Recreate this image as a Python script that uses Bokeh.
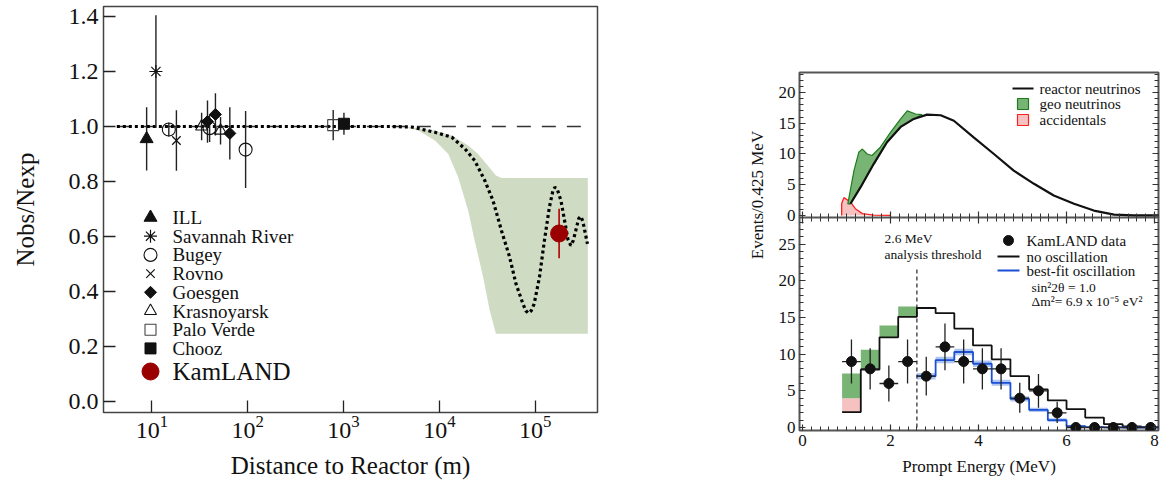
import math
from bokeh.plotting import figure
from bokeh.models import (Range1d, LinearScale, LinearAxis, FixedTicker,
                          SingleIntervalTicker, NumeralTickFormatter)
from bokeh.layouts import row, column
from bokeh.embed import file_html
from bokeh.resources import INLINE
from bokeh.core.properties import value

FONT = "Liberation Serif"
INK = "#111111"

# ---------------- LEFT PANEL DATA (distance in m, Nobs/Nexp, error) ----------------
ill_dist = [8.8];              ill_ratio = [0.955];               ill_err = [0.115]
sr_dist = [11.0];              sr_ratio = [1.20];                 sr_err = [0.205]
bugey_dist = [15.0, 40.0, 95.0]; bugey_ratio = [0.989, 0.994, 0.916]; bugey_err = [0.025, 0.05, 0.14]
rovno_dist = [18.0];           rovno_ratio = [0.949];             rovno_err = [0.11]
goesgen_dist = [38.0, 46.0, 65.0]; goesgen_ratio = [1.018, 1.044, 0.975]; goesgen_err = [0.077, 0.077, 0.095]
kras_dist = [33.0, 52.0];      kras_ratio = [1.0, 0.985];         kras_err = [0.05, 0.05]
pv_dist = [780.0];             pv_ratio = [1.005];                pv_err = [0.055]
chooz_dist = [1010.0];         chooz_ratio = [1.01];              chooz_err = [0.04]
kam_dist = [1.78e5];           kam_ratio = [0.611];               kam_err = [0.09]

osc_dist = [4.3, 1.0e3, 3.2e3, 5.2e3, 9.0e3, 1.35e4, 1.85e4, 2.34e4, 2.98e4, 3.63e4,
            4.45e4, 5.42e4, 6.31e4, 7.47e4, 8.0e4, 8.51e4, 9.1e4, 9.77e4, 1.11e5, 1.25e5,
            1.41e5, 1.53e5, 1.61e5, 1.70e5, 1.86e5, 2.09e5, 2.2e5, 2.36e5, 2.5e5, 2.66e5,
            2.85e5, 3.0e5, 3.15e5, 3.52e5]
osc_ratio = [1.0, 1.0, 1.0, 0.998, 0.979, 0.961, 0.919, 0.876, 0.804, 0.731,
             0.622, 0.525, 0.428, 0.355, 0.33, 0.321, 0.33, 0.355, 0.452, 0.585,
             0.707, 0.765, 0.779, 0.772, 0.731, 0.634, 0.59, 0.567, 0.585, 0.622,
             0.665, 0.673, 0.655, 0.573]

band_upper_dist = [2.8e3, 5.2e3, 9.0e3, 1.35e4, 2.0e4, 2.54e4, 3.2e4, 3.9e4, 4.45e4, 3.55e5]
band_upper_ratio = [1.0, 0.997, 0.985, 0.967, 0.931, 0.90, 0.858, 0.822, 0.813, 0.813]
band_lower_dist = [2.8e3, 4.1e3, 6.1e3, 9.0e3, 1.24e4, 1.57e4, 2.0e4, 2.34e4, 2.87e4, 3.36e4, 3.9e4, 3.55e5]
band_lower_ratio = [1.0, 1.0, 0.985, 0.949, 0.90, 0.816, 0.695, 0.585, 0.452, 0.331, 0.246, 0.246]

ref_dist = [4.3, 3.1e5]
ref_ratio = [1.0, 1.0]

x_ticks = [10, 100, 1000, 10000, 100000]
y_ticks = [0.0, 0.2, 0.4, 0.6, 0.8, 1.0, 1.2, 1.4]

# ---------------- RIGHT PANEL DATA ----------------
reactor_energy = [1.09, 1.32, 1.62, 1.92, 2.23, 2.53, 2.83, 3.14, 3.44, 3.89, 4.35,
                  4.80, 5.26, 5.71, 6.17, 6.62, 7.08, 7.53, 8.1]
reactor_events = [1.9, 4.6, 8.4, 11.9, 14.4, 15.7, 16.4, 16.3, 15.4, 12.7, 10.0,
                  7.3, 5.15, 3.25, 1.9, 0.8, 0.15, 0.0, 0.0]
geo_energy = [1.03, 1.17, 1.28, 1.36, 1.47, 1.58, 1.77, 2.0, 2.23, 2.38, 2.57, 2.72]
geo_events = [1.9, 7.3, 10.3, 10.8, 10.0, 9.75, 11.1, 13.5, 15.7, 17.0, 16.5, 16.4]
acc_energy = [0.89, 0.89, 0.94, 1.09, 1.2, 1.36, 1.62, 2.0]
acc_events = [0.0, 1.9, 2.9, 2.2, 1.1, 0.3, 0.05, 0.0]

bin_edges = [0.9, 1.325, 1.75, 2.175, 2.6, 3.025, 3.45, 3.875, 4.3, 4.725, 5.15,
             5.575, 6.0, 6.425, 6.85, 7.275, 7.7, 8.125]
no_osc = [2.1, 7.9, 12.3, 15.1, 16.3, 15.6, 13.5, 11.2, 9.3, 7.0, 5.2, 3.7, 2.5,
          1.35, 0.45, 0.15, 0.05]
acc_bins = [1.9, 0.0, 0.0, 0.0]
geo_bins = [3.35, 2.7, 1.6, 1.4]
fit_start_bin = 4
best_fit = [7.0, 9.2, 10.3, 8.7, 6.1, 3.9, 2.4, 1.0, 0.2, 0.05, 0.02, 0.0, 0.0]
best_fit_band = [0.45, 0.45, 0.45, 0.45, 0.4, 0.35, 0.3, 0.25, 0.1, 0.05, 0.0, 0.0, 0.0]
counts = [9, 8, 6, 9, 7, 11, 9, 8, 8, 4, 5, 2, 0, 0, 0, 0, 0]
count_err_up = [3.0, 2.8, 2.45, 3.0, 2.65, 3.2, 3.0, 2.8, 2.8, 2.1, 2.3, 1.5, 0.7, 0.7, 0.7, 0.7, 0.7]
count_err_dn = [3.0, 2.8, 2.45, 3.0, 2.65, 3.2, 3.0, 2.8, 2.8, 2.0, 2.3, 1.4, 0.0, 0.0, 0.0, 0.0, 0.0]
threshold = 2.6
threshold_top = 21.6

# ================= LEFT FIGURE =================
LFW, LFH = 494, 406
left = figure(x_axis_type="log", x_range=Range1d(3.12, 4.48e5), y_range=Range1d(-0.04, 1.4364),
              frame_width=LFW, frame_height=LFH, min_border_left=103, min_border_right=53,
              min_border_top=6, min_border_bottom=79, output_backend="svg", toolbar_location=None)
left.grid.visible = False
left.outline_line_color = "#444444"
left.outline_line_width = 1.5
left.background_fill_color = "white"
left.border_fill_color = "white"

xa = left.xaxis[0]
xa.ticker = FixedTicker(ticks=x_ticks, minor_ticks=[])
xa.axis_label = "Distance to Reactor (m)"
ya = left.yaxis[0]
ya.ticker = FixedTicker(ticks=y_ticks, minor_ticks=[])
ya.formatter = NumeralTickFormatter(format="0.0")
ya.axis_label = "Nobs/Nexp"
for ax in (xa, ya):
    ax.axis_line_color = None
    ax.major_tick_in = 12
    ax.major_tick_out = 0
    ax.minor_tick_in = 0
    ax.minor_tick_out = 0
    ax.major_tick_line_color = "#222222"
    ax.major_tick_line_width = 1.3
    ax.major_label_text_font = FONT
    ax.major_label_text_font_size = "24px"
    ax.major_label_text_color = INK
    ax.axis_label_text_font = FONT
    ax.axis_label_text_font_style = "normal"
    ax.axis_label_text_color = INK
xa.axis_label_text_font_size = "25px"
ya.axis_label_text_font_size = "25px"
xa.major_label_standoff = 3
xa.axis_label_standoff = 11
ya.major_label_standoff = 5
ya.axis_label_standoff = 27

left.extra_x_ranges = {"lx": Range1d(0, LFW)}
left.extra_x_scales = {"lx": LinearScale()}
left.extra_y_ranges = {"ly": Range1d(0, LFH)}
left.extra_y_scales = {"ly": LinearScale()}

# allowed band
left.patch(band_upper_dist + band_lower_dist[::-1], band_upper_ratio + band_lower_ratio[::-1],
           fill_color="#cfdbc3", line_color=None)
# no-oscillation reference
left.line(ref_dist, ref_ratio, line_color="#333333", line_width=1.4, line_dash="14 11")
# oscillation curve
left.line(osc_dist, osc_ratio, line_color="black", line_width=3.2, line_dash="3 3")

experiments = [
    ("ILL", ill_dist, ill_ratio, ill_err, dict(marker="triangle", size=13, fill_color=INK, line_color=INK)),
    ("Savannah River", sr_dist, sr_ratio, sr_err, dict(marker="asterisk", size=13, line_color=INK, line_width=1.2)),
    ("Bugey", bugey_dist, bugey_ratio, bugey_err, dict(marker="circle", size=13, fill_color=None, line_color=INK, line_width=1.1)),
    ("Rovno", rovno_dist, rovno_ratio, rovno_err, dict(marker="x", size=12, line_color=INK, line_width=1.2)),
    ("Goesgen", goesgen_dist, goesgen_ratio, goesgen_err, dict(marker="square", angle=math.pi / 4, size=8.5, fill_color=INK, line_color=INK)),
    ("Krasnoyarsk", kras_dist, kras_ratio, kras_err, dict(marker="triangle", size=12, fill_color=None, line_color=INK, line_width=1.1)),
    ("Palo Verde", pv_dist, pv_ratio, pv_err, dict(marker="square", size=11, fill_color=None, line_color="#444444", line_width=1.1)),
    ("Chooz", chooz_dist, chooz_ratio, chooz_err, dict(marker="square", size=11, fill_color=INK, line_color=INK)),
]
for name, d, r, e, style in experiments:
    left.segment(x0=d, y0=[a - b for a, b in zip(r, e)], x1=d, y1=[a + b for a, b in zip(r, e)],
                 line_color="#222222", line_width=1.4)
for name, d, r, e, style in experiments:
    left.scatter(x=d, y=r, **style)

KAM_RED = "#9b0000"
left.segment(x0=kam_dist, y0=[a - b for a, b in zip(kam_ratio, kam_err)], x1=kam_dist,
             y1=[a + b for a, b in zip(kam_ratio, kam_err)], line_color="#b00000", line_width=1.6)
left.scatter(x=kam_dist, y=kam_ratio, marker="circle", size=17, fill_color=KAM_RED, line_color=KAM_RED)

# legend (left panel), positions in frame pixels from the bottom-left corner
LEG_MX, LEG_TX, LEG_Y0, LEG_DY = 47, 69, 195, 18.7
for i, (name, d, r, e, style) in enumerate(experiments):
    yy = LEG_Y0 - i * LEG_DY
    left.scatter(x=[LEG_MX], y=[yy], x_range_name="lx", y_range_name="ly", **style)
    left.text(x=[LEG_TX], y=[yy], text=[name], x_range_name="lx", y_range_name="ly",
              text_font=value(FONT), text_font_size="19px", text_baseline="middle",
              text_align="left", text_color=INK)
left.scatter(x=[LEG_MX], y=[41], x_range_name="lx", y_range_name="ly", marker="circle",
             size=17, fill_color=KAM_RED, line_color=KAM_RED)
left.text(x=[LEG_TX], y=[41], text=["KamLAND"], x_range_name="lx", y_range_name="ly",
          text_font=value(FONT), text_font_size="25px", text_baseline="middle",
          text_align="left", text_color=INK)

# ================= SHARED Y LABEL FOR RIGHT PANELS =================
lab = figure(width=120, height=491, x_range=Range1d(0, 120), y_range=Range1d(0, 491),
             min_border=0, x_axis_type=None, y_axis_type=None, outline_line_color=None,
             output_backend="svg", toolbar_location=None)
lab.grid.visible = False
lab.text(x=[107], y=[263], text=["Events/0.425 MeV"], angle=math.pi / 2, text_align="center",
         text_baseline="middle", text_font=value(FONT), text_font_size="17px", text_color=INK)

# ================= RIGHT FIGURES =================
RFW = 359


def tick_axis(fig, side, ticker, show_labels, label=None):
    ax = LinearAxis(ticker=ticker)
    ax.axis_line_color = None
    ax.major_tick_in = 6
    ax.major_tick_out = 0
    ax.minor_tick_in = 4
    ax.minor_tick_out = 0
    ax.major_tick_line_color = "#333333"
    ax.minor_tick_line_color = "#333333"
    ax.major_tick_line_width = 1.2
    ax.minor_tick_line_width = 1.0
    if show_labels:
        ax.major_label_text_font = FONT
        ax.major_label_text_font_size = "17px"
        ax.major_label_text_color = INK
        ax.major_label_standoff = 4
    else:
        ax.major_label_text_font_size = "1px"
        ax.major_label_text_color = None
        ax.major_label_standoff = 0
    if label:
        ax.axis_label = label
        ax.axis_label_text_font = FONT
        ax.axis_label_text_font_size = "17px"
        ax.axis_label_text_font_style = "normal"
        ax.axis_label_text_color = INK
        ax.axis_label_standoff = 8
    fig.add_layout(ax, side)


def style_right(fig):
    fig.outline_line_color = "#555555"
    fig.outline_line_width = 2
    fig.background_fill_color = "white"
    fig.border_fill_color = "white"


def step_xy(edges, vals):
    xs, ys = [], []
    for i, v in enumerate(vals):
        xs += [edges[i], edges[i + 1]]
        ys += [v, v]
    return xs, ys


GREEN = "#78b474"
DKGREEN = "#1e7b1e"
PINK = "#f6c1c1"
RED = "#ff2020"
BLUE = "#1a4fd6"
LBLUE = "#aec5ef"
E_LO, E_HI = -0.068, 8.09
OVERLAP = 9

# ---- top panel ----
TFH = 145
top = figure(x_range=Range1d(E_LO, E_HI), y_range=Range1d(-0.33, 23.25), frame_width=RFW,
             frame_height=TFH, min_border_left=29, min_border_right=4, min_border_top=72,
             min_border_bottom=OVERLAP, x_axis_type=None, y_axis_type=None,
             output_backend="svg", toolbar_location=None)
style_right(top)
tick_axis(top, "left", SingleIntervalTicker(interval=5, num_minor_ticks=5), True)
tick_axis(top, "right", SingleIntervalTicker(interval=5, num_minor_ticks=5), False)
tick_axis(top, "below", SingleIntervalTicker(interval=2, num_minor_ticks=10), False)
top.extra_x_ranges = {"px": Range1d(0, RFW)}
top.extra_x_scales = {"px": LinearScale()}
top.extra_y_ranges = {"py": Range1d(0, TFH)}
top.extra_y_scales = {"py": LinearScale()}

top.varea(x=acc_energy, y1=[0.0] * len(acc_energy), y2=acc_events, fill_color=PINK)
top.line(acc_energy, acc_events, line_color=RED, line_width=1.3)
back = [(e, v) for e, v in zip(reactor_energy, reactor_events) if e < geo_energy[-1]][::-1]
top.patch(geo_energy + [b[0] for b in back], geo_events + [b[1] for b in back],
          fill_color=GREEN, line_color=DKGREEN, line_width=1.2)
top.line(reactor_energy, reactor_events, line_color=INK, line_width=2.2)

# top legend (frame pixels)
top.line([213, 234], [129, 129], x_range_name="px", y_range_name="py", line_color=INK, line_width=2.2)
top.quad(left=[218], right=[229], bottom=[108], top=[119], x_range_name="px", y_range_name="py",
         fill_color=GREEN, line_color=DKGREEN, line_width=1.2)
top.quad(left=[218], right=[229], bottom=[92], top=[103], x_range_name="px", y_range_name="py",
         fill_color=PINK, line_color=RED, line_width=1.2)
top.text(x=[240, 240, 240], y=[129, 114, 98], text=["reactor neutrinos", "geo neutrinos", "accidentals"],
         x_range_name="px", y_range_name="py", text_font=value(FONT), text_font_size="15px",
         text_baseline="middle", text_align="left", text_color=INK)

# ---- bottom panel ----
BFH = 213
bot = figure(x_range=Range1d(E_LO, E_HI), y_range=Range1d(-0.41, 28.65), frame_width=RFW,
             frame_height=BFH, min_border_left=29, min_border_right=4, min_border_top=0,
             min_border_bottom=61, x_axis_type=None, y_axis_type=None,
             output_backend="svg", toolbar_location=None, margin=(-OVERLAP, 0, 0, 0))
style_right(bot)
bot.border_fill_color = None
tick_axis(bot, "left", SingleIntervalTicker(interval=5, num_minor_ticks=5), True)
tick_axis(bot, "right", SingleIntervalTicker(interval=5, num_minor_ticks=5), False)
tick_axis(bot, "above", SingleIntervalTicker(interval=2, num_minor_ticks=10), False)
tick_axis(bot, "below", SingleIntervalTicker(interval=2, num_minor_ticks=10), True, "Prompt Energy (MeV)")
bot.extra_x_ranges = {"px": Range1d(0, RFW)}
bot.extra_x_scales = {"px": LinearScale()}
bot.extra_y_ranges = {"py": Range1d(0, BFH)}
bot.extra_y_scales = {"py": LinearScale()}

nb = len(geo_bins)
base_acc = [no_osc[i] for i in range(nb)]
top_acc = [no_osc[i] + acc_bins[i] for i in range(nb)]
top_geo = [top_acc[i] + geo_bins[i] for i in range(nb)]
bot.quad(left=bin_edges[:nb], right=bin_edges[1:nb + 1], bottom=base_acc, top=top_acc,
         fill_color=PINK, line_color=None)
bot.quad(left=bin_edges[:nb], right=bin_edges[1:nb + 1], bottom=top_acc, top=top_geo,
         fill_color=GREEN, line_color=None)

fit_edges = bin_edges[fit_start_bin:]
bot.quad(left=fit_edges[:-1], right=fit_edges[1:],
         bottom=[v - b for v, b in zip(best_fit, best_fit_band)],
         top=[v + b for v, b in zip(best_fit, best_fit_band)],
         fill_color=LBLUE, line_color=None)

sx, sy = step_xy(bin_edges, no_osc)
bot.line(sx, sy, line_color=INK, line_width=1.8)
fx, fy = step_xy(fit_edges, best_fit)
bot.line(fx, fy, line_color=BLUE, line_width=1.8)

bot.line([threshold, threshold], [0, threshold_top], line_color=INK, line_width=1.1, line_dash="4 3")

centers = [(bin_edges[i] + bin_edges[i + 1]) / 2 for i in range(len(counts))]
bot.segment(x0=bin_edges[:-1], y0=counts, x1=bin_edges[1:], y1=counts, line_color="#222222", line_width=1.3)
bot.segment(x0=centers, y0=[c - e for c, e in zip(counts, count_err_dn)], x1=centers,
            y1=[c + e for c, e in zip(counts, count_err_up)], line_color="#222222", line_width=1.3)
bot.scatter(x=centers, y=counts, marker="circle", size=10, fill_color=INK, line_color=INK)

# bottom legend & annotations (frame pixels)
bot.scatter(x=[209], y=[190], x_range_name="px", y_range_name="py", marker="circle", size=10,
            fill_color=INK, line_color=INK)
bot.line([198, 220], [174, 174], x_range_name="px", y_range_name="py", line_color=INK, line_width=1.8)
bot.line([198, 220], [160, 160], x_range_name="px", y_range_name="py", line_color=BLUE, line_width=1.8)
bot.text(x=[227, 227, 227], y=[190, 174, 160],
         text=["KamLAND data", "no oscillation", "best-fit oscillation"],
         x_range_name="px", y_range_name="py", text_font=value(FONT), text_font_size="15px",
         text_baseline="middle", text_align="left", text_color=INK)
bot.text(x=[232, 232], y=[143, 129], text=["sin\u00b22\u03b8 = 1.0", "\u0394m\u00b2= 6.9 x 10\u207b\u2075 eV\u00b2"],
         x_range_name="px", y_range_name="py", text_font=value(FONT), text_font_size="13.5px",
         text_baseline="middle", text_align="left", text_color=INK)
bot.text(x=[85, 85], y=[192, 176], text=["2.6 MeV", "analysis threshold"],
         x_range_name="px", y_range_name="py", text_font=value(FONT), text_font_size="13.5px",
         text_baseline="middle", text_align="left", text_color=INK)

layout = row(left, lab, column(top, bot))

with open("out.html", "w") as f:
    f.write(file_html(layout, INLINE))
